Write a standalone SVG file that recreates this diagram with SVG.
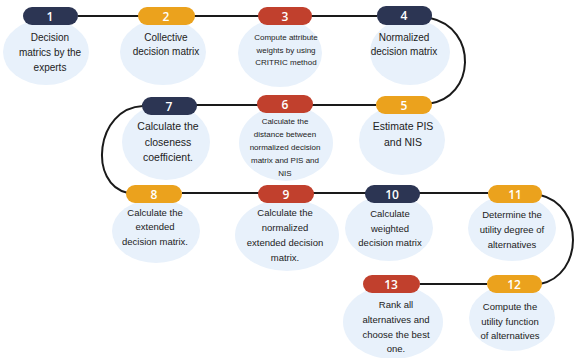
<svg xmlns="http://www.w3.org/2000/svg" width="576" height="358" viewBox="0 0 576 358">
<style>
.blob{fill:#E8F1FB}
.pill{stroke:none}
.navy{fill:#2C3553}
.orange{fill:#EBA21D}
.red{fill:#C1402D}
.num{font-family:"Open Sans","Liberation Sans",sans-serif;font-size:12px;font-weight:600;fill:#fff;text-anchor:middle}
.t{font-family:"Liberation Sans",Arial,sans-serif;font-size:10px;fill:#222;text-anchor:middle}
.s{font-family:"Liberation Sans",Arial,sans-serif;font-size:8px;fill:#222;text-anchor:middle}
.m{font-family:"Liberation Sans",Arial,sans-serif;font-size:9.5px;fill:#222;text-anchor:middle}
.c{fill:none;stroke:#1a1a1a;stroke-width:2}
</style>
<rect width="576" height="358" fill="#fff"/>
<g id="connectors">
<path class="c" d="M78 16 H377"/>
<path class="c" d="M430 18 C478 28 476 98 428 104"/>
<path class="c" d="M142 105 H376"/>
<path class="c" d="M143 106 C95 108 88 185 128 193"/>
<path class="c" d="M182 193 H488"/>
<path class="c" d="M540 195 C584 205 584 275 540 284"/>
<path class="c" d="M420 284 H487"/>
</g>
<g id="node1">
<ellipse class="blob" cx="46" cy="52" rx="43" ry="33"/>
<rect class="pill navy" x="23" y="7" width="55" height="18" rx="9"/>
<text class="num" x="50" y="21">1</text>
<text class="t" x="50" y="41">Decision</text>
<text class="t" x="50" y="56">matrics by the</text>
<text class="t" x="50" y="71">experts</text>
</g>
<g id="node2">
<ellipse class="blob" cx="163" cy="52" rx="43" ry="33"/>
<rect class="pill orange" x="138" y="7" width="57" height="18" rx="9"/>
<text class="num" x="166" y="21">2</text>
<text class="t" x="166" y="41">Collective</text>
<text class="t" x="166" y="55">decision matrix</text>
</g>
<g id="node3">
<ellipse class="blob" cx="280" cy="53" rx="42" ry="34"/>
<rect class="pill red" x="258" y="7" width="54" height="18" rx="9"/>
<text class="num" x="285" y="21">3</text>
<text class="s" x="286" y="40">Compute attribute</text>
<text class="s" x="286" y="53">weights by using</text>
<text class="s" x="286" y="65">CRITRIC method</text>
</g>
<g id="node4">
<ellipse class="blob" cx="410" cy="52" rx="40" ry="33"/>
<rect class="pill navy" x="377" y="6" width="55" height="19" rx="9"/>
<text class="num" x="404" y="20">4</text>
<text class="t" x="404" y="41">Normalized</text>
<text class="t" x="404" y="55">decision matrix</text>
</g>
<g id="node5">
<ellipse class="blob" cx="402" cy="140" rx="43" ry="35"/>
<rect class="pill orange" x="376" y="96" width="56" height="18" rx="9"/>
<text class="num" x="404" y="110">5</text>
<text class="t" x="403" y="130" style="font-size:10.5px">Estimate PIS</text>
<text class="t" x="403" y="146" style="font-size:10.5px">and NIS</text>
</g>
<g id="node6">
<ellipse class="blob" cx="286" cy="143" rx="47" ry="38"/>
<rect class="pill red" x="257" y="95" width="56" height="18" rx="9"/>
<text class="num" x="285" y="109">6</text>
<text class="s" x="285" y="124">Calculate the</text>
<text class="s" x="285" y="137">distance between</text>
<text class="s" x="285" y="150">normalized decision</text>
<text class="s" x="285" y="163">matrix and PIS and</text>
<text class="s" x="285" y="176">NIS</text>
</g>
<g id="node7">
<ellipse class="blob" cx="166" cy="142" rx="44" ry="38"/>
<rect class="pill navy" x="142" y="97" width="55" height="18" rx="9"/>
<text class="num" x="169" y="111">7</text>
<text class="t" x="168" y="130" style="font-size:10.5px">Calculate the</text>
<text class="t" x="168" y="146" style="font-size:10.5px">closeness</text>
<text class="t" x="168" y="161" style="font-size:10.5px">coefficient.</text>
</g>
<g id="node8">
<ellipse class="blob" cx="156" cy="231" rx="44" ry="32"/>
<rect class="pill orange" x="126" y="185" width="56" height="18" rx="9"/>
<text class="num" x="154" y="199">8</text>
<text class="m" x="155" y="216">Calculate the</text>
<text class="m" x="155" y="230">extended</text>
<text class="m" x="155" y="245">decision matrix.</text>
</g>
<g id="node9">
<ellipse class="blob" cx="287" cy="235" rx="52" ry="36"/>
<rect class="pill red" x="258" y="185" width="56" height="18" rx="9"/>
<text class="num" x="286" y="199">9</text>
<text class="m" x="285" y="216">Calculate the</text>
<text class="m" x="285" y="231">normalized</text>
<text class="m" x="285" y="246">extended decision</text>
<text class="m" x="285" y="261">matrix.</text>
</g>
<g id="node10">
<ellipse class="blob" cx="389" cy="228" rx="44" ry="33"/>
<rect class="pill navy" x="365" y="185" width="55" height="18" rx="9"/>
<text class="num" x="392" y="199">10</text>
<text class="m" x="390" y="217">Calculate</text>
<text class="m" x="390" y="232">weighted</text>
<text class="m" x="390" y="246">decision matrix</text>
</g>
<g id="node11">
<ellipse class="blob" cx="512" cy="228" rx="44" ry="33"/>
<rect class="pill orange" x="488" y="185" width="54" height="18" rx="9"/>
<text class="num" x="515" y="199">11</text>
<text class="m" x="512" y="218">Determine the</text>
<text class="m" x="512" y="233">utility degree of</text>
<text class="m" x="512" y="248">alternatives</text>
</g>
<g id="node12">
<ellipse class="blob" cx="512" cy="318" rx="43" ry="33"/>
<rect class="pill orange" x="487" y="275" width="55" height="18" rx="9"/>
<text class="num" x="514" y="289">12</text>
<text class="m" x="510" y="310">Compute the</text>
<text class="m" x="510" y="325">utility function</text>
<text class="m" x="510" y="339">of alternatives</text>
</g>
<g id="node13">
<ellipse class="blob" cx="393" cy="322" rx="50" ry="37"/>
<rect class="pill red" x="363" y="275" width="57" height="18" rx="9"/>
<text class="num" x="391" y="289">13</text>
<text class="m" x="396" y="308">Rank all</text>
<text class="m" x="396" y="323">alternatives and</text>
<text class="m" x="396" y="338">choose the best</text>
<text class="m" x="396" y="352">one.</text>
</g>
</svg>
